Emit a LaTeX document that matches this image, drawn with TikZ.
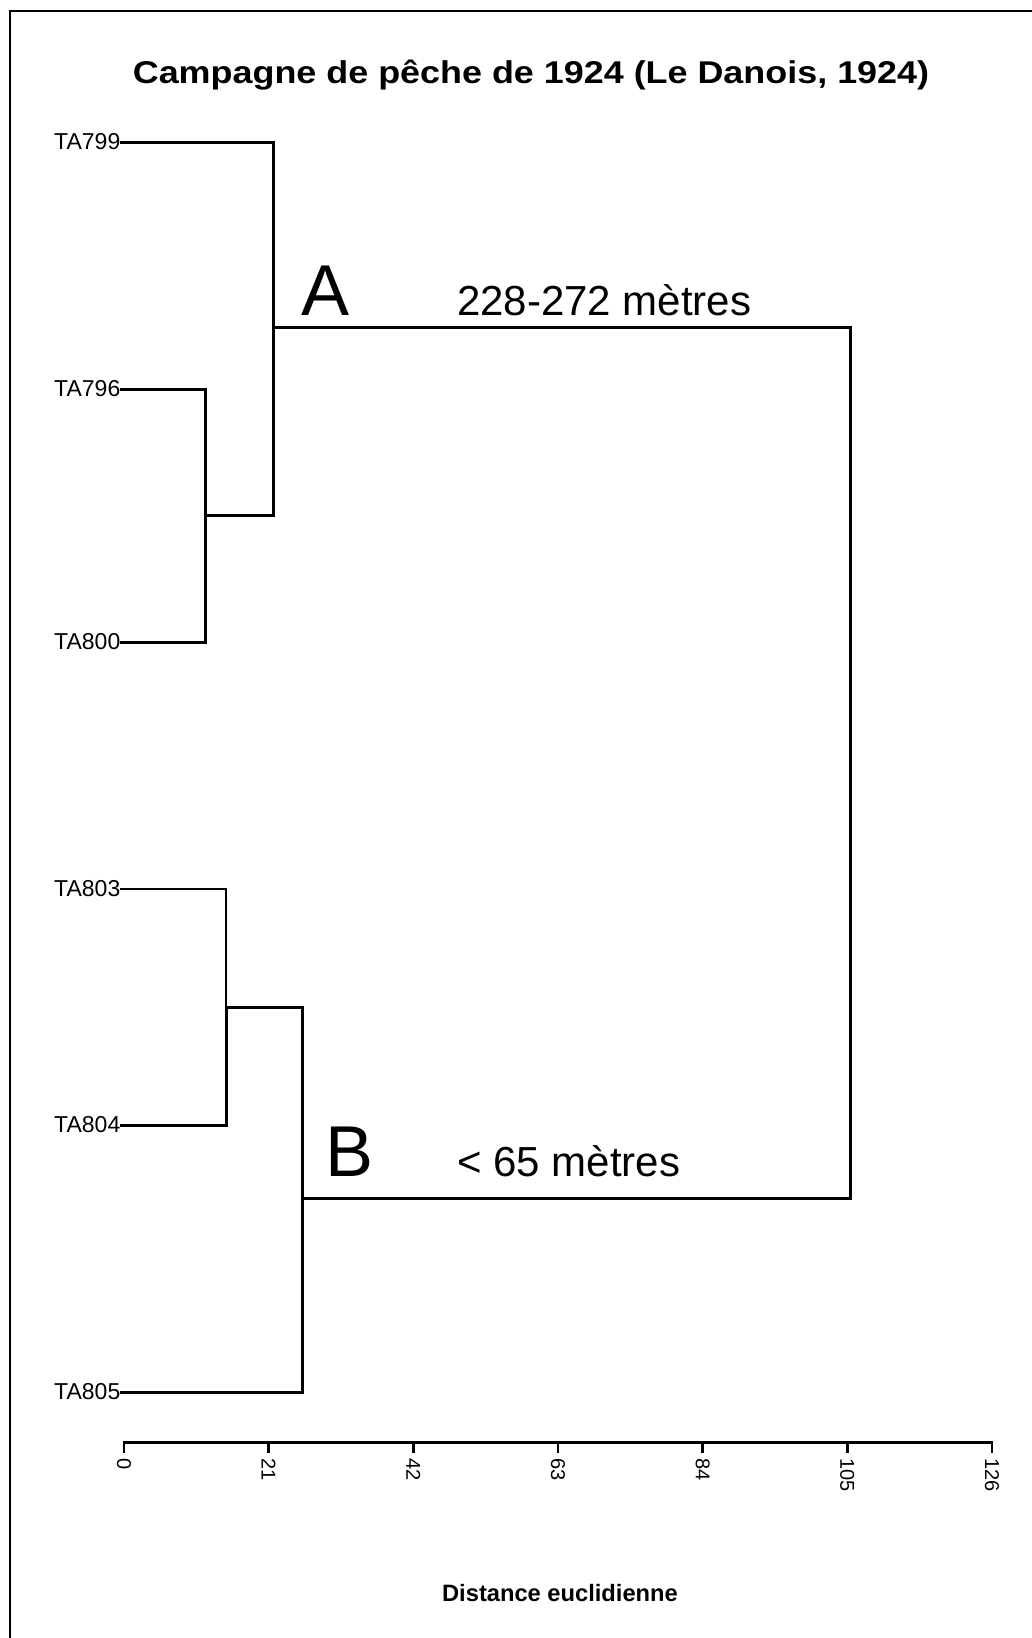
\documentclass[tikz,border=0pt]{standalone}
\usepackage{fontspec}
\setmainfont{Liberation Sans}
\usepackage{graphicx}
\begin{document}
\begin{tikzpicture}[x=1pt,y=-1pt,
  leaf/.style={anchor=east,inner sep=0.5pt,font=\fontsize{23}{26}\selectfont},
  branch/.style={line width=3pt,line join=miter,line cap=rect},
  thinbranch/.style={line width=1.8pt,line join=miter,line cap=rect},
  bigletter/.style={anchor=base west,inner sep=0pt,font=\fontsize{72}{80}\selectfont},
  depth/.style={anchor=base west,inner sep=0pt,font=\fontsize{42}{48}\selectfont},
  ticklab/.style={anchor=west,rotate=-90,inner sep=0pt,font=\fontsize{20}{23}\selectfont},
  axisline/.style={line width=3pt}]
\useasboundingbox (0,0) rectangle (1032,1638);
% frame (top and left edges)
\draw[line width=2.2pt] (10,1638) -- (10,11) -- (1032,11);
% title
\node[anchor=base,inner sep=0pt,font=\bfseries\fontsize{31.5}{36}\selectfont] (title) at (531,83)
  {\scalebox{1.14}[1]{Campagne de pêche de 1924 (Le Danois, 1924)}};
% leaves
\node[leaf] (TA799) at (121,142) {TA799};
\node[leaf] (TA796) at (121,389) {TA796};
\node[leaf] (TA800) at (121,642) {TA800};
\node[leaf] (TA803) at (121,889) {TA803};
\node[leaf] (TA804) at (121,1125) {TA804};
\node[leaf] (TA805) at (121,1392) {TA805};
% junctions
\coordinate (j1) at (205,515);
\coordinate (jA) at (273,327);
\coordinate (j2) at (226,1007);
\coordinate (jB) at (302,1198);
\coordinate (root) at (850,1198);
% tree
\draw[branch] (TA796.east) -| (j1);
\draw[branch] (TA800.east) -| (j1);
\draw[branch] (TA799.east) -| (jA);
\draw[branch] (j1) -| (jA);
\draw[thinbranch] (TA803.east) -| (j2);
\draw[branch] (TA804.east) -| (j2);
\draw[branch] (j2) -| (jB);
\draw[branch] (TA805.east) -| (jB);
\draw[branch] (jA) -| (root);
\draw[branch] (jB) -- (root);
% cluster labels
\node[bigletter] (A) at (301,315) {A};
\node[depth] (dA) at (457,315) {228-272 mètres};
\node[bigletter] (B) at (325,1176) {B};
\node[depth] (dB) at (457,1176) {< 65 mètres};
% axis
\coordinate (ax0) at (124,1442);
\coordinate (ax1) at (992,1442);
\draw[axisline] (ax0) -- (ax1);
\foreach \d in {0,21,42,63,84,105,126}{
  \pgfmathsetmacro{\xx}{124+\d*6.889}
  \draw[line width=2.4pt] (\xx,1441) -- (\xx,1453);
  \node[ticklab] (t\d) at (\xx,1458) {\d};
}
\node[anchor=base,inner sep=0pt,font=\bfseries\fontsize{23.7}{28}\selectfont] (xlab) at (560,1601) {Distance euclidienne};
\end{tikzpicture}
\end{document}
